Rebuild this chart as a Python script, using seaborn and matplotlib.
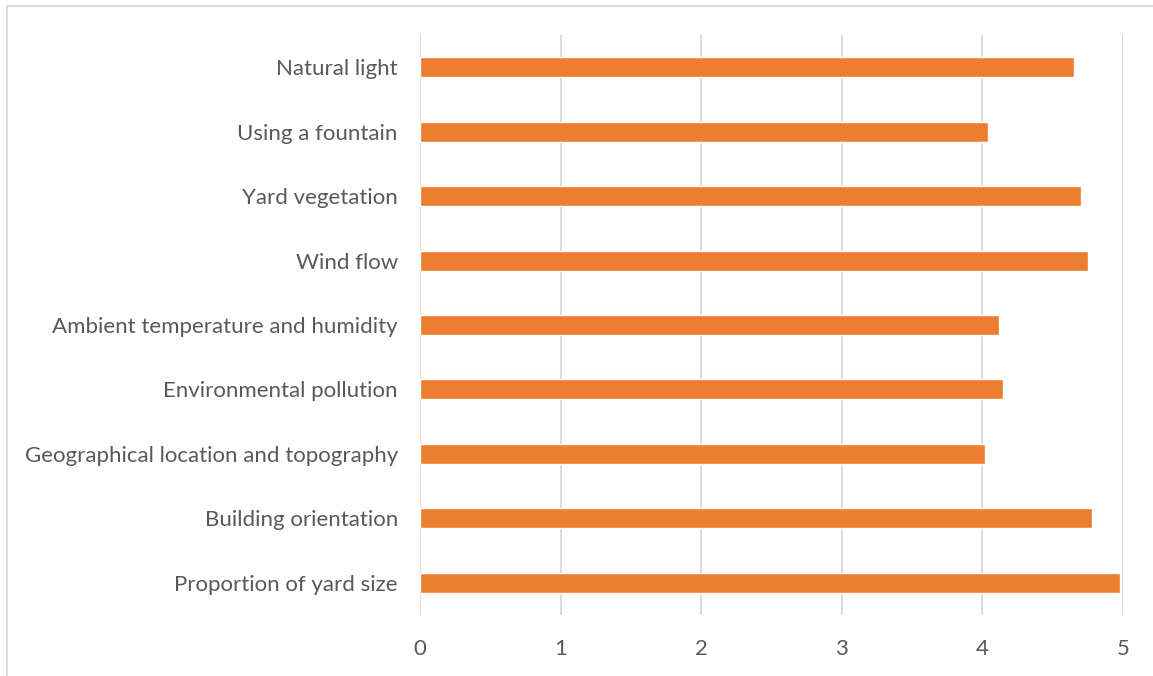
import matplotlib
matplotlib.use("Agg")
import matplotlib.pyplot as plt
import seaborn as sns
import pandas as pd
from matplotlib.lines import Line2D

categories = [
    "Natural light",
    "Using a fountain",
    "Yard vegetation",
    "Wind flow",
    "Ambient temperature and humidity",
    "Environmental pollution",
    "Geographical location and topography",
    "Building orientation",
    "Proportion of yard size",
]
values = [4.65, 4.04, 4.70, 4.75, 4.12, 4.15, 4.02, 4.78, 4.98]
x_ticks = [0, 1, 2, 3, 4, 5]

sns.set_theme(style="white")
plt.rcParams['font.family'] = ['Lato', 'DejaVu Sans']

df = pd.DataFrame({"category": categories, "value": values})

fig = plt.figure(figsize=(11.53, 6.76), dpi=100)
bx, by = 7 / 1153, 1 - 5.5 / 676
fig.add_artist(Line2D([bx, bx], [0, by], transform=fig.transFigure,
                      color="#D9D9D9", linewidth=1.3))
fig.add_artist(Line2D([bx, 1], [by, by], transform=fig.transFigure,
                      color="#D9D9D9", linewidth=1.3))
ax = fig.add_axes([420 / 1153, (676 - 615) / 676, 703 / 1153, 580 / 676])

sns.barplot(data=df, y="category", x="value", orient="h", color="#ED7D31",
            width=0.31, saturation=1, ax=ax, zorder=3)

ax.set_xlim(0, 5)
ax.set_xticks(x_ticks)
ax.set_xticklabels([str(t) for t in x_ticks])
ax.set_xlabel("")
ax.set_ylabel("")
for s in ax.spines.values():
    s.set_visible(False)
ax.grid(axis="x", color="#D9D9D9", linewidth=1.3, zorder=0)
ax.grid(axis="y", visible=False)
ax.set_axisbelow(True)
ax.tick_params(axis="both", length=0, labelsize=16, labelcolor="#595959")
ax.tick_params(axis="y", pad=16)
ax.tick_params(axis="x", pad=17)

fig.savefig("out.png", dpi=100)
